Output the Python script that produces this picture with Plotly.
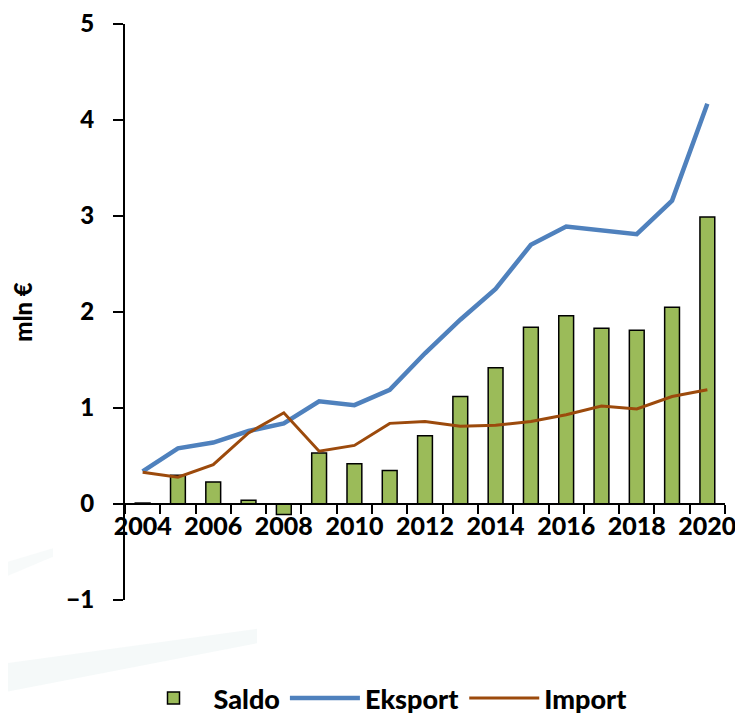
import plotly.graph_objects as go

years = [str(y) for y in range(2004, 2021)]
tick_text = [y if int(y) % 2 == 0 else "" for y in years]

saldo = [0.01, 0.30, 0.23, 0.04, -0.11, 0.53, 0.42, 0.35, 0.71, 1.12, 1.42,
         1.84, 1.96, 1.83, 1.81, 2.05, 2.99]
eksport = [0.34, 0.58, 0.64, 0.76, 0.84, 1.07, 1.03, 1.19, 1.57, 1.92, 2.24,
           2.70, 2.89, 2.85, 2.81, 3.16, 4.17]
import_ = [0.33, 0.28, 0.41, 0.74, 0.95, 0.55, 0.61, 0.84, 0.86, 0.81, 0.82,
           0.86, 0.93, 1.02, 0.99, 1.12, 1.19]

FONT = "Lato, 'Open Sans', sans-serif"
W = 900

fig = go.Figure()
fig.add_trace(go.Bar(
    x=years, y=saldo, name="Saldo",
    marker=dict(color="#9BBB59", line=dict(color="#000000", width=1.5)),
))
fig.add_trace(go.Scatter(
    x=years, y=eksport, name="Eksport", mode="lines",
    line=dict(color="#4F81BD", width=4.5),
))
fig.add_trace(go.Scatter(
    x=years, y=import_, name="Import", mode="lines",
    line=dict(color="#9C4A0C", width=3),
))

# faint watermark swooshes in the background
fig.add_shape(type="path", xref="paper", yref="paper", layer="below",
              path="M -0.2 -0.16 L 0.22 -0.075 L 0.22 -0.05 L -0.2 -0.11 Z",
              fillcolor="rgba(175,205,210,0.13)", line_width=0)
fig.add_shape(type="path", xref="paper", yref="paper", layer="below",
              path="M -0.2 0.04 L -0.12 0.075 L -0.12 0.09 L -0.2 0.065 Z",
              fillcolor="rgba(175,205,210,0.10)", line_width=0)

fig.update_layout(
    width=727, height=712,
    paper_bgcolor="white", plot_bgcolor="rgba(0,0,0,0)",
    margin=dict(l=117, r=10, t=16, b=120, autoexpand=False),
    font=dict(family=FONT, color="#000000", size=22),
    bargap=0.58,
    showlegend=True,
    legend=dict(
        orientation="h", x=0.43, xanchor="center", y=-0.171, yanchor="middle",
        font=dict(size=27, family=FONT, weight=W),
        traceorder="normal", itemwidth=70, bgcolor="rgba(0,0,0,0)",
    ),
    xaxis=dict(
        type="category", anchor="free", position=1 / 6, automargin=False,
        tickmode="array", tickvals=years, ticktext=tick_text,
        tickson="boundaries", ticks="outside", ticklen=9, tickwidth=2,
        tickcolor="#000000",
        showline=True, linecolor="#000000", linewidth=2,
        showgrid=False, zeroline=False,
        tickfont=dict(size=25, family=FONT, weight=W),
        tickangle=0, ticklabeloverflow="allow",
    ),
    yaxis=dict(
        range=[-1, 5], dtick=1, tick0=0, automargin=False,
        ticks="outside", ticklen=10, tickwidth=2, tickcolor="#000000",
        showline=True, linecolor="#000000", linewidth=2,
        showgrid=False, zeroline=False,
        tickfont=dict(size=24, family=FONT, weight=W),
        ticklabelstandoff=14, ticklabeloverflow="allow",
        title=dict(text="mln €", font=dict(size=24, family=FONT, weight=W),
                   standoff=36),
    ),
)

fig.write_html("out.html")
